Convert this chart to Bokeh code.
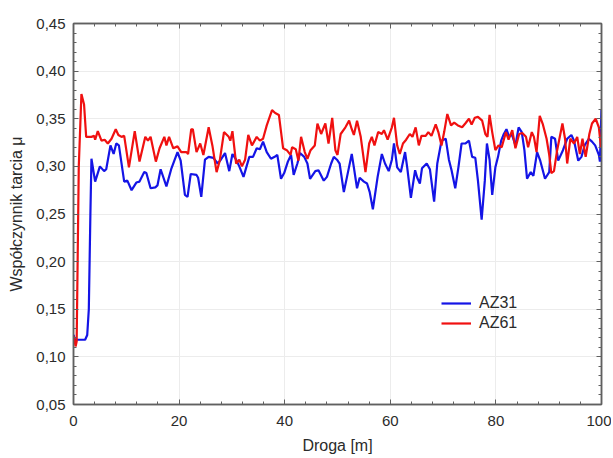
from bokeh.plotting import figure
from bokeh.models import (Range1d, LinearAxis, SingleIntervalTicker, CustomJSTickFormatter,
                          Legend, LegendItem)
from bokeh.embed import file_html
from bokeh.resources import INLINE

# ---- data ----
droga_az31 = [0.0, 0.3, 2.2, 2.6, 2.9, 3.2, 3.4, 4.1, 5.0, 5.8, 6.2, 7.0, 7.6, 8.1, 8.6, 9.6, 10.2, 11.0,
              11.9, 12.5, 13.4, 13.8, 14.6, 15.5, 15.9, 16.5, 17.6, 18.5, 19.7, 20.3, 21.1, 21.6, 22.2,
              23.3, 23.6, 24.2, 24.9, 25.6, 26.5, 27.3, 27.9, 28.7, 29.5, 30.1, 30.8, 31.4, 32.2, 33.3,
              34.0, 34.7, 35.3, 35.9, 36.6, 37.4, 38.1, 38.6, 39.3, 39.9, 40.6, 41.2, 41.7, 42.4, 42.9,
              43.7, 44.3, 44.8, 45.8, 46.4, 47.4, 48.0, 48.8, 49.3, 49.9, 50.4, 51.2, 51.8, 52.7, 53.1,
              53.7, 54.2, 55.0, 55.6, 56.1, 56.7, 57.6, 58.4, 59.0, 59.7, 60.3, 60.7, 61.3, 62.0, 62.8,
              63.2, 63.9, 64.7, 65.1, 65.6, 66.0, 66.9, 67.5, 68.3, 68.9, 69.7, 70.5, 71.1, 71.6, 72.3,
              72.9, 73.5, 74.2, 74.9, 75.5, 76.1, 76.6, 77.3, 77.9, 78.3, 78.8, 79.3, 79.9, 80.4, 81.0,
              81.5, 82.0, 82.5, 83.0, 83.7, 84.3, 84.9, 85.4, 85.9, 86.6, 87.1, 87.8, 88.4, 89.3, 90.1,
              90.5, 91.2, 91.8, 92.7, 93.5, 94.3, 94.8, 95.6, 96.2, 96.8, 97.6, 98.2, 98.8, 99.5, 99.7,
              100.0]
mu_az31 = [0.123, 0.118, 0.118, 0.123, 0.150, 0.250, 0.308, 0.284, 0.300, 0.295, 0.297, 0.322, 0.313,
           0.324, 0.322, 0.284, 0.285, 0.275, 0.283, 0.284, 0.294, 0.293, 0.277, 0.278, 0.280, 0.297,
           0.279, 0.297, 0.315, 0.306, 0.270, 0.268, 0.292, 0.291, 0.288, 0.268, 0.307, 0.310, 0.309,
           0.303, 0.307, 0.314, 0.295, 0.313, 0.307, 0.300, 0.289, 0.310, 0.310, 0.319, 0.318, 0.326,
           0.315, 0.308, 0.310, 0.312, 0.287, 0.293, 0.305, 0.312, 0.291, 0.303, 0.314, 0.310, 0.303,
           0.287, 0.295, 0.296, 0.285, 0.289, 0.303, 0.310, 0.307, 0.303, 0.273, 0.289, 0.313, 0.299,
           0.277, 0.288, 0.284, 0.282, 0.273, 0.255, 0.289, 0.313, 0.303, 0.295, 0.307, 0.324, 0.299,
           0.294, 0.315, 0.299, 0.267, 0.296, 0.288, 0.282, 0.298, 0.303, 0.297, 0.263, 0.303, 0.327,
           0.329, 0.307, 0.296, 0.277, 0.299, 0.324, 0.324, 0.327, 0.310, 0.309, 0.285, 0.244, 0.285,
           0.324, 0.307, 0.270, 0.299, 0.310, 0.327, 0.334, 0.339, 0.331, 0.334, 0.322, 0.341, 0.336,
           0.317, 0.287, 0.294, 0.290, 0.315, 0.306, 0.287, 0.294, 0.331, 0.329, 0.306, 0.317, 0.329,
           0.333, 0.327, 0.306, 0.310, 0.322, 0.329, 0.326, 0.322, 0.312, 0.305, 0.360]

droga_az61 = [0.0, 0.4, 0.6, 1.0, 1.5, 2.0, 2.4, 3.4, 3.9, 4.1, 4.6, 5.3, 5.9, 6.5, 7.2, 8.0, 8.5, 9.1,
              9.6, 10.5, 11.6, 12.5, 13.6, 14.1, 14.6, 15.6, 16.3, 17.2, 17.6, 18.1, 18.9, 19.7, 20.4,
              21.4, 21.7, 22.3, 22.6, 23.3, 24.0, 24.6, 25.6, 26.3, 27.1, 27.7, 28.5, 29.4, 29.7, 30.1,
              30.8, 31.4, 31.9, 32.5, 33.1, 33.8, 34.7, 35.3, 35.9, 36.6, 37.6, 38.2, 38.9, 39.7, 40.4,
              41.1, 41.4, 42.1, 42.6, 43.1, 43.8, 44.3, 44.9, 45.7, 46.2, 46.9, 47.7, 48.3, 49.0, 49.6,
              50.0, 50.6, 51.5, 52.2, 52.7, 53.1, 53.7, 54.4, 55.3, 56.0, 56.5, 57.0, 57.7, 58.4, 58.8,
              59.5, 60.3, 60.7, 61.3, 61.8, 62.4, 63.0, 63.7, 64.2, 64.8, 65.4, 65.9, 66.7, 67.2, 67.8,
              68.6, 69.1, 69.7, 70.2, 70.8, 71.5, 72.1, 72.8, 73.6, 74.2, 74.9, 75.4, 76.0, 76.6, 77.4,
              78.0, 78.4, 78.8, 79.3, 79.9, 80.5, 81.1, 81.9, 82.4, 83.1, 83.7, 84.4, 85.0, 85.7, 86.1,
              86.8, 87.2, 87.7, 88.3, 88.9, 89.6, 90.1, 90.5, 91.0, 91.6, 92.6, 93.1, 93.5, 94.1, 94.8,
              95.4, 95.9, 96.4, 97.0, 97.7, 98.2, 98.9, 99.5, 99.9]
mu_az61 = [0.122, 0.111, 0.116, 0.300, 0.376, 0.365, 0.331, 0.331, 0.332, 0.328, 0.337, 0.327, 0.328,
           0.324, 0.329, 0.339, 0.333, 0.331, 0.332, 0.299, 0.337, 0.305, 0.331, 0.327, 0.331, 0.305,
           0.319, 0.331, 0.322, 0.331, 0.319, 0.321, 0.315, 0.315, 0.313, 0.339, 0.339, 0.315, 0.324,
           0.312, 0.341, 0.322, 0.294, 0.306, 0.336, 0.331, 0.327, 0.337, 0.303, 0.307, 0.300, 0.307,
           0.333, 0.322, 0.331, 0.327, 0.329, 0.343, 0.359, 0.356, 0.354, 0.319, 0.317, 0.312, 0.320,
           0.318, 0.306, 0.331, 0.315, 0.308, 0.317, 0.322, 0.345, 0.334, 0.345, 0.324, 0.351, 0.317,
           0.312, 0.334, 0.341, 0.348, 0.339, 0.333, 0.348, 0.331, 0.294, 0.324, 0.331, 0.322, 0.336,
           0.334, 0.338, 0.328, 0.341, 0.351, 0.322, 0.313, 0.324, 0.328, 0.334, 0.331, 0.341, 0.322,
           0.332, 0.332, 0.336, 0.332, 0.344, 0.336, 0.322, 0.336, 0.355, 0.343, 0.346, 0.343, 0.341,
           0.345, 0.350, 0.344, 0.351, 0.352, 0.348, 0.334, 0.331, 0.354, 0.336, 0.317, 0.322, 0.320,
           0.336, 0.328, 0.338, 0.319, 0.334, 0.335, 0.331, 0.320, 0.336, 0.331, 0.315, 0.353, 0.344,
           0.329, 0.312, 0.293, 0.295, 0.317, 0.345, 0.329, 0.303, 0.329, 0.324, 0.331, 0.313, 0.329,
           0.310, 0.334, 0.345, 0.350, 0.341, 0.320]

series_names = ["AZ31", "AZ61"]
x_label = "Droga [m]"
y_label = "Współczynnik tarcia μ"

FONT = "Liberation Sans"
TXT = "#2b2b2b"
EDGE = "#606060"

p = figure(width=611, height=456, output_backend="svg", toolbar_location=None,
           x_range=Range1d(0, 100), y_range=Range1d(0.05, 0.45),
           min_border_left=73, min_border_right=10, min_border_top=23, min_border_bottom=48)

p.background_fill_color = "white"
p.border_fill_color = "white"
p.outline_line_color = EDGE
p.outline_line_width = 1.5

r31 = p.line(droga_az31, mu_az31, line_color="#1414e6", line_width=2.2)
r61 = p.line(droga_az61, mu_az61, line_color="#f01010", line_width=2.2)

xt = SingleIntervalTicker(interval=20, num_minor_ticks=5)
yt = SingleIntervalTicker(interval=0.05, num_minor_ticks=5)
p.xaxis.ticker = xt
p.yaxis.ticker = yt
p.yaxis.formatter = CustomJSTickFormatter(code="return tick.toFixed(2).replace('.', ',');")

for ax in (p.xaxis[0], p.yaxis[0]):
    ax.axis_line_color = EDGE
    ax.axis_line_width = 1.5
    ax.major_tick_in = 5
    ax.major_tick_out = 0
    ax.minor_tick_in = 3
    ax.minor_tick_out = 0
    ax.major_tick_line_color = EDGE
    ax.minor_tick_line_color = EDGE
    ax.major_label_text_font = FONT
    ax.major_label_text_font_size = "15px"
    ax.major_label_text_color = TXT
    ax.axis_label_text_font = FONT
    ax.axis_label_text_font_size = "16px"
    ax.axis_label_text_font_style = "normal"
    ax.axis_label_text_color = TXT

p.xaxis.axis_label = x_label
p.yaxis.axis_label = y_label
p.xaxis.major_label_standoff = 11
p.xaxis.axis_label_standoff = 8
p.yaxis.major_label_standoff = 8
p.yaxis.axis_label_standoff = 8

# mirrored axes (top, right) with inward ticks, no labels
blank = CustomJSTickFormatter(code="return '';")
for loc, tk in (("above", xt), ("right", yt)):
    a = LinearAxis(ticker=tk, formatter=blank, major_label_standoff=0,
                   axis_line_color=EDGE, axis_line_width=1.5,
                   major_tick_in=5, major_tick_out=0, minor_tick_in=3, minor_tick_out=0,
                   major_tick_line_color=EDGE, minor_tick_line_color=EDGE)
    p.add_layout(a, loc)

p.xgrid.ticker = xt
p.ygrid.ticker = yt
p.xgrid.grid_line_color = "#ececec"
p.ygrid.grid_line_color = "#ececec"
p.xgrid.grid_line_width = 1
p.ygrid.grid_line_width = 1

legend = Legend(items=[LegendItem(label=series_names[0], renderers=[r31]),
                       LegendItem(label=series_names[1], renderers=[r61])],
                location=(368, 72), border_line_color=None, background_fill_alpha=0,
                padding=0, margin=0, spacing=2, glyph_width=30, glyph_height=18,
                label_height=18, label_standoff=8,
                label_text_font=FONT, label_text_font_size="16px", label_text_color=TXT)
p.add_layout(legend, "center")

open("out.html", "w").write(file_html(p, INLINE))
